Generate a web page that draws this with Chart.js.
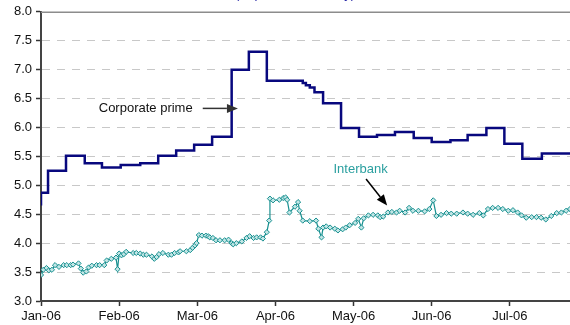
<!DOCTYPE html>
<html>
<head>
<meta charset="utf-8">
<script src="https://cdn.jsdelivr.net/npm/chart.js@4/dist/chart.umd.min.js"></script>
<style>
html,body{margin:0;padding:0;background:#fff}
#wrap{width:570px;height:325px;position:relative}
</style>
</head>
<body>
<div id="wrap"><canvas id="chart"></canvas></div>
<script>

// months since 1 Jan 2006 (axis has equal month spacing)
const monthLabels = ["Jan-06","Feb-06","Mar-06","Apr-06","May-06","Jun-06","Jul-06"]

const primePos = [0, 0.09, 0.32, 0.56, 0.78, 1.02, 1.27, 1.50, 1.73, 1.96, 2.19, 2.44, 2.66, 2.89,
    3.13, 3.35, 3.39, 3.44, 3.50, 3.61, 3.84, 4.07, 4.30, 4.53, 4.77, 5.00, 5.24, 5.46, 5.70,
    5.93, 6.16, 6.41, 6.64, 6.77]
const primeRate = [4.65, 4.87, 5.25, 5.51, 5.38, 5.31, 5.35, 5.38, 5.51, 5.60, 5.70, 5.84, 7.00, 7.31,
    6.81, 6.81, 6.77, 6.73, 6.69, 6.61, 6.42, 5.99, 5.84, 5.87, 5.92, 5.82, 5.75, 5.78, 5.87,
    5.99, 5.72, 5.46, 5.55, 5.55]

const interbankPos = [0.00, 0.03, 0.07, 0.10, 0.14, 0.18, 0.23, 0.29, 0.33, 0.38, 0.41, 0.48, 0.51,
    0.54, 0.58, 0.61, 0.65, 0.71, 0.75, 0.81, 0.84, 0.90, 0.96, 0.98, 1.00, 1.03, 1.06, 1.09,
    1.18, 1.22, 1.27, 1.31, 1.35, 1.42, 1.45, 1.48, 1.51, 1.56, 1.63, 1.67, 1.71, 1.76, 1.78,
    1.86, 1.91, 1.94, 1.97, 1.99, 2.02, 2.06, 2.11, 2.14, 2.16, 2.20, 2.24, 2.29, 2.35, 2.40,
    2.44, 2.46, 2.50, 2.57, 2.63, 2.67, 2.72, 2.76, 2.81, 2.84, 2.89, 2.92, 2.93, 2.97, 3.05,
    3.10, 3.13, 3.15, 3.18, 3.25, 3.29, 3.31, 3.35, 3.44, 3.52, 3.55, 3.59, 3.61, 3.65, 3.70,
    3.76, 3.80, 3.86, 3.90, 3.95, 4.02, 4.06, 4.10, 4.13, 4.19, 4.25, 4.31, 4.34, 4.38, 4.44,
    4.49, 4.55, 4.59, 4.66, 4.71, 4.76, 4.83, 4.91, 4.97, 5.02, 5.06, 5.12, 5.19, 5.25, 5.32,
    5.40, 5.46, 5.53, 5.61, 5.66, 5.72, 5.78, 5.85, 5.91, 5.98, 6.04, 6.10, 6.15, 6.21, 6.28,
    6.34, 6.40, 6.46, 6.53, 6.60, 6.66, 6.72, 6.77]
const interbankRate = [3.45, 3.54, 3.57, 3.53, 3.54, 3.62, 3.59, 3.62, 3.62, 3.62, 3.63, 3.65, 3.56,
    3.49, 3.51, 3.58, 3.61, 3.62, 3.62, 3.62, 3.70, 3.73, 3.75, 3.55, 3.82, 3.79, 3.81, 3.85,
    3.83, 3.83, 3.82, 3.80, 3.80, 3.77, 3.73, 3.76, 3.81, 3.83, 3.80, 3.80, 3.83, 3.84, 3.86,
    3.86, 3.88, 3.92, 3.96, 4.00, 4.14, 4.13, 4.13, 4.12, 4.10, 4.09, 4.05, 4.05, 4.05, 4.06,
    4.00, 3.98, 4.00, 4.03, 4.09, 4.12, 4.09, 4.10, 4.10, 4.08, 4.19, 4.39, 4.77, 4.74, 4.75,
    4.78, 4.79, 4.75, 4.53, 4.63, 4.71, 4.56, 4.39, 4.38, 4.39, 4.25, 4.10, 4.27, 4.29, 4.27,
    4.25, 4.22, 4.24, 4.27, 4.31, 4.35, 4.42, 4.27, 4.43, 4.48, 4.49, 4.48, 4.45, 4.46, 4.53,
    4.54, 4.53, 4.56, 4.53, 4.61, 4.56, 4.56, 4.55, 4.59, 4.74, 4.47, 4.49, 4.52, 4.51, 4.51,
    4.53, 4.51, 4.49, 4.52, 4.48, 4.59, 4.61, 4.61, 4.59, 4.56, 4.57, 4.53, 4.48, 4.44, 4.45,
    4.45, 4.44, 4.41, 4.47, 4.52, 4.53, 4.56, 4.59]

const FONT = "'Liberation Sans', Arial, sans-serif"
const NAVY = "#08087e"
const TEAL = "#168f8f"

// text labels with arrows, placed in data units
const notes = [
    {text:"Corporate prime", color:"#111", at:[1.34, 6.33], from:[2.07, 6.33], to:[2.52, 6.33], arrow:"#333"},
    {text:"Interbank", color:"#2a9f9f", at:[4.09, 5.28], from:[4.16, 5.11], to:[4.43, 4.65], arrow:"#000"}
]

const notesPlugin = {
    id:"notes",
    afterDraw(chart){
        const ctx = chart.ctx
        const x = chart.scales.x
        const y = chart.scales.y
        const area = chart.chartArea

        // solid top line of the plot
        ctx.save()
        ctx.strokeStyle = "#8c8c8c"
        ctx.lineWidth = 1.5
        ctx.beginPath()
        ctx.moveTo(area.left, y.getPixelForValue(8) + 0.5)
        ctx.lineTo(area.right, y.getPixelForValue(8) + 0.5)
        ctx.stroke()

        // title cut by the top edge
        ctx.fillStyle = "#2a2aa8"
        ctx.font = "13px " + FONT
        ctx.textAlign = "center"
        ctx.textBaseline = "alphabetic"
        ctx.fillText("(% per annum, daily)", 295, -2.5)

        notes.forEach(n=>{
            ctx.font = "13px " + FONT
            ctx.fillStyle = n.color
            ctx.textAlign = "center"
            ctx.textBaseline = "middle"
            ctx.fillText(n.text, x.getPixelForValue(n.at[0]), y.getPixelForValue(n.at[1]))

            const x1 = x.getPixelForValue(n.from[0]), y1 = y.getPixelForValue(n.from[1])
            const x2 = x.getPixelForValue(n.to[0]), y2 = y.getPixelForValue(n.to[1])
            const ang = Math.atan2(y2 - y1, x2 - x1)
            const len = 11, half = 4.5
            const bx = x2 - len * Math.cos(ang), by = y2 - len * Math.sin(ang)

            ctx.strokeStyle = n.arrow
            ctx.fillStyle = n.arrow
            ctx.lineWidth = 1.5
            ctx.beginPath()
            ctx.moveTo(x1, y1)
            ctx.lineTo(bx, by)
            ctx.stroke()
            ctx.beginPath()
            ctx.moveTo(x2, y2)
            ctx.lineTo(bx + half * Math.sin(ang), by - half * Math.cos(ang))
            ctx.lineTo(bx - half * Math.sin(ang), by + half * Math.cos(ang))
            ctx.closePath()
            ctx.fill()
        })
        ctx.restore()
    }
}

new Chart(document.getElementById("chart"),{
    type:"line",
    data:{
        datasets:[
            {
                label:"Corporate prime",
                data:primePos.map((p,i)=>({x:p, y:primeRate[i]})),
                borderColor:NAVY,
                borderWidth:2.5,
                stepped:"after",
                pointRadius:0,
                fill:false
            },
            {
                label:"Interbank",
                data:interbankPos.map((p,i)=>({x:p, y:interbankRate[i]})),
                borderColor:TEAL,
                borderWidth:1.2,
                pointStyle:"rectRot",
                pointRadius:2.6,
                pointBorderWidth:1,
                pointBorderColor:TEAL,
                pointBackgroundColor:"#c2e6e6",
                fill:false
            }
        ]
    },
    options:{
        responsive:true,
        maintainAspectRatio:false,
        animation:false,
        layout:{autoPadding:false, padding:{top:10, right:0, left:0, bottom:0}},
        plugins:{legend:{display:false}, tooltip:{enabled:false}},
        scales:{
            x:{
                type:"linear",
                min:0,
                max:6.77,
                afterFit(s){ s.height = 24 },
                ticks:{
                    stepSize:1,
                    includeBounds:false,
                    autoSkip:false,
                    maxRotation:0,
                    padding:3,
                    color:"#111",
                    font:{family:FONT, size:13},
                    callback:v=>monthLabels[v] || ""
                },
                grid:{drawOnChartArea:false, drawTicks:true, tickLength:5, tickColor:"#333", tickWidth:1.5},
                border:{color:"#444", width:2}
            },
            y:{
                min:3,
                max:8,
                afterFit(s){ s.width = 41 },
                ticks:{
                    stepSize:0.5,
                    padding:4,
                    color:"#111",
                    font:{family:FONT, size:13},
                    callback:v=>v.toFixed(1)
                },
                grid:{
                    color:c=>(c.tick && (c.tick.value === 3 || c.tick.value === 8)) ? "rgba(0,0,0,0)" : "#c8c8c8",
                    lineWidth:1,
                    tickLength:5,
                    tickColor:"#333",
                    tickWidth:1.5
                },
                border:{color:"#444", width:2, dash:[8,7]}
            }
        }
    },
    plugins:[notesPlugin]
})
</script>
</body>
</html>
